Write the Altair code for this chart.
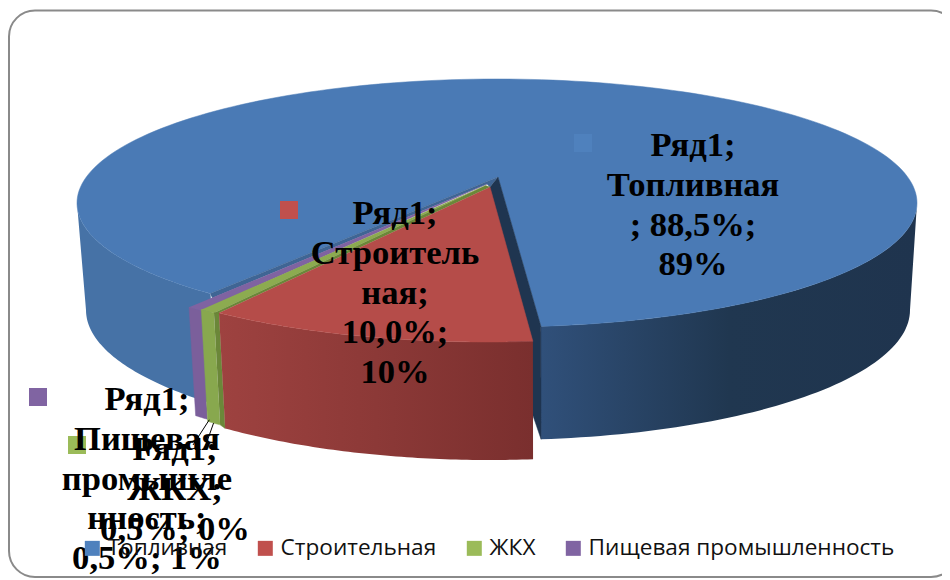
import math
import altair as alt
import pandas as pd

categories = ["Топливная", "Строительная", "ЖКХ", "Пищевая промышленность"]
shares = [88.5, 10.0, 0.5, 0.5]
colors = ["#4F81BD", "#C0504D", "#9BBB59", "#8064A2"]

label_lines = [
    ["Ряд1;", "Топливная", "; 88,5%;", "89%"],
    ["Ряд1;", "Строитель", "ная;", "10,0%;", "10%"],
    ["Ряд1;", "ЖКХ;", "0,5%; 0%"],
    ["Ряд1;", "Пищевая", "промышле", "нность;", "0,5%; 1%"],
]
label_anchor = [(693, 146), (395, 214), (175, 450), (147, 400)]
marker_pos = [(583, 143), (289, 210), (77, 445), (38, 397)]

W, H = 934, 572
xs = alt.Scale(domain=[8, 8 + W], range=[0, W], nice=False, zero=False)
ys = alt.Scale(domain=[8, 8 + H], range=[0, H], nice=False, zero=False)
X = alt.X("x:Q", scale=xs, axis=None)
Y = alt.Y("y:Q", scale=ys, axis=None)


def ell(c, t):
    a = math.radians(t)
    return (c[0] + c[2] * math.cos(a), c[1] + c[3] * math.sin(a))


def arc(c, t1, t2, n=60):
    return [ell(c, t1 + (t2 - t1) * i / n) for i in range(n + 1)]


def poly(pts, fill, stroke=None):
    df = pd.DataFrame({"x": [p[0] for p in pts], "y": [p[1] for p in pts], "i": range(len(pts))})
    return alt.Chart(df).mark_line(
        fill=fill, stroke=stroke or (fill if isinstance(fill, str) else "transparent"),
        strokeWidth=0.5, clip=False,
    ).encode(x=X, y=Y, order="i:Q")


def grad(*stops):
    return alt.Gradient(
        gradient="linear", x1=0, x2=1, y1=0, y2=0,
        stops=[alt.GradientStop(offset=o, color=c) for o, c in stops],
    )


# angles from the shares
T0 = 84.0
k_front = 1.278
k_back = 0.976
t_blue_end = T0 - shares[0] * 3.6 * k_back
t_red = T0 + shares[1] * 3.6 * k_front
t_green = t_red + shares[2] * 3.6 * k_front
t_purple = t_green + shares[3] * 3.6 * k_front

blue_top = (497, 203, 420, 124)
blue_bot = (498, 310, 412, 130)
red_top = (489, 218, 420, 124)
red_bot = (490, 325, 412, 135)
green_top = (484, 218, 420, 124)
green_bot = (485, 323, 412, 133)
purple_top = (484, 219, 420, 124)
purple_bot = (485, 321, 412, 133)

apex_blue = (498, 177)
apex_red = (490, 187)
apex_green = (485.5, 185.5)
apex_purple = (487, 184)

layers = []

# frame
frame = pd.DataFrame({"x": [9], "x2": [957], "y": [10.5], "y2": [577]})
layers.append(
    alt.Chart(frame).mark_rect(fill="white", stroke="#8A8A8A", strokeWidth=2, cornerRadius=26, clip=False)
    .encode(x=X, x2="x2:Q", y=Y, y2="y2:Q")
)

# blue walls
layers.append(poly(arc(blue_top, 133, 180) + arc(blue_bot, 180, 133), grad((0, "#4672A6"), (1, "#4672A6"))))
layers.append(poly(arc(blue_top, T0, 0) + arc(blue_bot, 0, T0),
                   grad((0, "#30507A"), (0.5, "#203750"), (1, "#1F344E"))))
p_out = ell(blue_top, T0)
p_bot = ell(blue_bot, T0)
# blue top
layers.append(poly([apex_blue] + arc(blue_top, T0, t_blue_end, 200), "#4A7AB5"))
layers.append(poly([ell(blue_top, t_blue_end), apex_blue, apex_red, apex_purple, (212, 298)], "#3F6594"))
layers.append(poly([apex_blue, p_out, p_bot, (apex_red[0], 290), apex_red], "#1F3550"))

# purple
layers.append(poly(arc(purple_top, t_green, t_purple, 6) + arc(purple_bot, t_purple, t_green, 6), "#7B5F9B"))
layers.append(poly([apex_purple] + arc(purple_top, t_green, t_purple, 6), "#7F63A1"))
# green
layers.append(poly(arc(green_top, t_red, t_green, 6) + arc(green_bot, t_green, t_red, 6), "#88A84E"))
layers.append(poly([apex_green] + arc(green_top, t_red, t_green, 6), "#8CAB50"))
g1 = ell(green_top, t_red)
r1 = ell(red_top, t_red)
g1b = ell(green_bot, t_red)
r1b = ell(red_bot, t_red)
layers.append(poly([g1, r1, r1b, g1b], "#6B8739"))
layers.append(poly([g1, r1, apex_red, apex_green], "#6B8739"))
# red
layers.append(poly(arc(red_top, T0, t_red) + arc(red_bot, t_red, T0),
                   grad((0, "#9E4240"), (0.5, "#8C3937"), (1, "#7A2F2E"))))
layers.append(poly([apex_red] + arc(red_top, T0, t_red), "#B54C49"))

# leader lines
for a, b in [(ell(purple_bot, t_green - 0.3), (193, 445)), (ell(green_bot, t_red + 1.2), (204, 450))]:
    df = pd.DataFrame({"x": [a[0], b[0]], "y": [a[1], b[1]], "i": [0, 1]})
    layers.append(alt.Chart(df).mark_line(color="black", strokeWidth=1, clip=False).encode(x=X, y=Y, order="i:Q"))

# markers + legend
mk = pd.DataFrame({"name": categories, "x": [p[0] for p in marker_pos], "y": [p[1] for p in marker_pos]})
layers.append(
    alt.Chart(mk).mark_square(size=324, opacity=1, clip=False).encode(
        x=X, y=Y,
        fill=alt.Fill("name:N", scale=alt.Scale(domain=categories, range=colors), legend=alt.Legend(
            title=None, orient="none", legendX=73, legendY=529, direction="horizontal",
            symbolType="square", symbolSize=225, symbolStrokeWidth=0, labelFont="Open Sans",
            labelFontSize=22.6, labelColor="#111111", symbolOffset=0, columnPadding=26,
            labelOffset=4, labelLimit=400, padding=0, rowPadding=0, zindex=1,
        )),
    )
)

# labels
LH = 39.8
rows = []
for lines, (cx, cy) in zip(label_lines, label_anchor):
    for j, s in enumerate(lines):
        rows.append({"x": cx, "y": cy + j * LH, "t": s})
layers.append(
    alt.Chart(pd.DataFrame(rows)).mark_text(
        font="Liberation Serif", fontWeight="bold", fontSize=34.6, color="black",
        baseline="middle", align="center", clip=False,
    ).encode(x=X, y=Y, text="t:N")
)

chart = alt.layer(*layers).properties(
    width=W, height=H, padding=0, autosize=alt.AutoSizeParams(type="none"),
).configure_view(stroke=None)

chart.save("out.html", embed_options={"renderer": "svg", "actions": False})
